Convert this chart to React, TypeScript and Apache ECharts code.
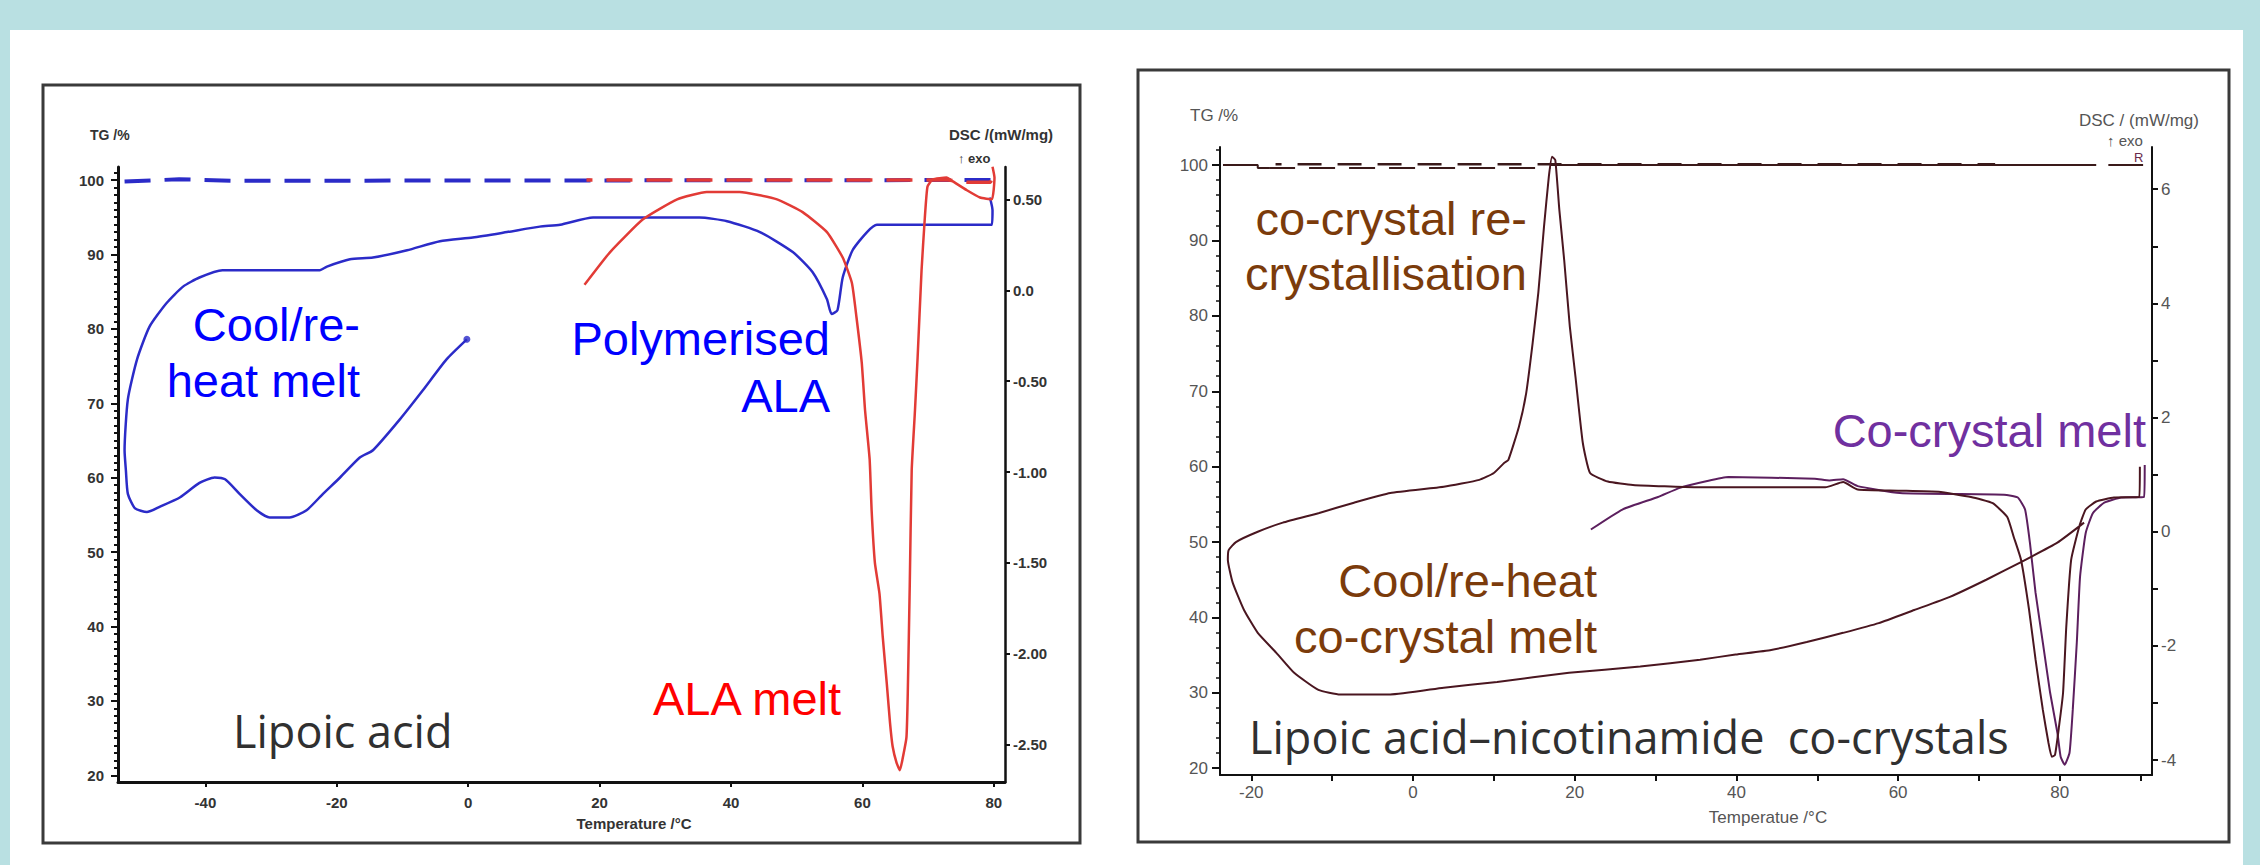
import React, { useEffect, useRef } from 'react';
import * as echarts from 'echarts';

const W = 2260;
const H = 865;
const SANS = 'Liberation Sans, Arial, sans-serif';
const SEGOE = 'Open Sans, Noto Sans, sans-serif';

// ---------- Left panel: Lipoic acid ----------
const lipoicTempTicks = [-40, -20, 0, 20, 40, 60, 80];
const lipoicTgTicks = [20, 30, 40, 50, 60, 70, 80, 90, 100];
const lipoicDscTicks = [0.5, 0, -0.5, -1, -1.5, -2, -2.5];

const lipoicTgBlue: [number, number][] = [[-52.3, 99.8], [-44, 100.1], [-36, 99.9], [80, 100]];
const lipoicTgRed: [number, number][] = [[18, 100], [73, 100], [76, 99.7], [79.5, 99.7], [80.1, 101.3]];

const lipoicDscBlue: [number, number][] = [
  [-0.2, -0.27], [-3.3, -0.38], [-6.9, -0.55], [-10.4, -0.71], [-14.5, -0.88], [-16.5, -0.92],
  [-19.5, -1.03], [-22.1, -1.12], [-24.6, -1.21], [-27.2, -1.25], [-30.2, -1.25], [-32.2, -1.21],
  [-34.8, -1.12], [-37.0, -1.04], [-38.6, -1.03], [-40.9, -1.06], [-43.9, -1.14], [-46.9, -1.19],
  [-48.9, -1.22], [-50.7, -1.2], [-51.8, -1.12], [-52.1, -0.99], [-52.3, -0.88], [-51.8, -0.6],
  [-50.4, -0.38], [-48.5, -0.2], [-45.9, -0.07], [-43.4, 0.02], [-40.9, 0.07], [-37.4, 0.11],
  [-22.6, 0.11], [-21.5, 0.13], [-18.0, 0.17], [-14.5, 0.18], [-9.3, 0.22], [-4.3, 0.27],
  [0.7, 0.29], [5.9, 0.32], [10.9, 0.35], [14.0, 0.36], [19.0, 0.4], [24.1, 0.4], [35.2, 0.4],
  [39.4, 0.38], [44.4, 0.32], [49.4, 0.21], [52.4, 0.1], [54.6, -0.05], [55.3, -0.13],
  [56.2, -0.11], [57.0, 0.07], [58.5, 0.22], [60.7, 0.32], [62.2, 0.36], [79.7, 0.36],
  [79.8, 0.44], [79.4, 0.51]
];
const lipoicDscBlueEnd: [number, number][] = [[-0.2, -0.27]];

const lipoicDscRed: [number, number][] = [
  [17.7, 0.03], [21.6, 0.21], [26.6, 0.39], [31.8, 0.5], [36.3, 0.54], [41.3, 0.54], [47.0, 0.5],
  [50.9, 0.43], [54.6, 0.32], [57.0, 0.18], [58.4, 0.04], [59.1, -0.15], [59.9, -0.4], [60.4, -0.66],
  [61.1, -0.93], [61.4, -1.21], [61.9, -1.5], [62.6, -1.67], [63.1, -1.91], [63.7, -2.16],
  [64.2, -2.38], [64.6, -2.51], [65.2, -2.6], [65.7, -2.64], [66.1, -2.58], [66.7, -2.46],
  [66.9, -2.22], [67.2, -1.63], [67.5, -0.99], [68.0, -0.66], [68.4, -0.37], [69.0, 0.11],
  [69.5, 0.4], [69.9, 0.57], [70.7, 0.61], [72.8, 0.62], [73.7, 0.6], [75.9, 0.55], [77.9, 0.51],
  [79.7, 0.5], [80.1, 0.62], [79.8, 0.68]
];

// ---------- Right panel: Lipoic acid–nicotinamide co-crystals ----------
const coTempTicks = [-20, 0, 20, 40, 60, 80];
const coTempMinorTicks = [-20, -10, 0, 10, 20, 30, 40, 50, 60, 70, 80, 90];
const coTgTicks = [20, 30, 40, 50, 60, 70, 80, 90, 100];
const coDscTicks = [6, 4, 2, 0, -2, -4];
const coDscMinorTicks = [6, 5, 4, 3, 2, 1, 0, -1, -2, -3, -4];

const coTgSolidStart: [number, number][] = [[-23.5, 100], [-19.2, 100], [-19.2, 99.6], [-17.8, 99.6]];
const coTgDashLow: [number, number][] = [[-17.8, 99.6], [17, 99.6]];
const coTgDashHigh: [number, number][] = [[-17, 100.1], [72, 100.1]];
const coTgSolid: [number, number][] = [[17, 100], [84.5, 100]];
const coTgDashEnd: [number, number][] = [[86, 100], [90.3, 100]];

const coDscCoolReheat: [number, number][] = [
  [83.0, 0.16], [79.7, -0.19], [75.2, -0.53], [70.9, -0.84], [66.4, -1.14], [62.0, -1.37],
  [57.6, -1.6], [53.2, -1.77], [48.7, -1.93], [44.3, -2.07], [39.9, -2.15], [35.5, -2.24],
  [28.1, -2.36], [19.3, -2.47], [10.4, -2.63], [3.8, -2.73], [-2.8, -2.85], [-9.0, -2.85],
  [-11.7, -2.77], [-14.7, -2.47], [-16.9, -2.12], [-19.2, -1.77], [-20.9, -1.37], [-22.3, -0.89],
  [-22.9, -0.49], [-22.8, -0.32], [-21.9, -0.18], [-19.2, 0.0], [-16.1, 0.16], [-11.6, 0.33],
  [-7.3, 0.51], [-2.8, 0.68], [3.8, 0.79], [8.2, 0.91], [10.0, 1.03], [11.3, 1.21], [11.8, 1.26],
  [13.1, 1.84], [14.0, 2.43], [14.8, 3.31], [15.5, 4.19], [16.2, 5.34], [16.8, 6.22], [17.2, 6.57],
  [17.6, 6.51], [18.1, 5.64], [18.7, 4.76], [19.4, 3.59], [20.1, 2.71], [21.0, 1.56], [21.9, 1.03],
  [24.1, 0.88], [27.2, 0.82], [35, 0.78], [45, 0.78], [51, 0.78], [53.2, 0.87], [55, 0.74],
  [60, 0.72], [65, 0.7], [69.0, 0.61], [71.7, 0.5], [73.5, 0.26], [74.3, -0.09], [75.2, -0.49],
  [76.2, -1.37], [77.0, -2.24], [77.9, -3.12], [78.6, -3.7], [79.0, -3.94], [79.4, -3.91],
  [79.9, -3.41], [80.4, -2.82], [80.8, -1.66], [81.4, -0.49], [82.4, 0.09], [83.2, 0.39],
  [84.5, 0.53], [86.7, 0.6], [89.8, 0.61], [89.9, 1.14]
];

const coDscMelt: [number, number][] = [
  [22.0, 0.04], [25.9, 0.39], [30.3, 0.61], [33.0, 0.77], [36.4, 0.89], [39.0, 0.96], [49.7, 0.93],
  [51.5, 0.9], [53.2, 0.92], [55.0, 0.8], [60.2, 0.68], [73.1, 0.65], [74.8, 0.6], [75.7, 0.39],
  [76.3, -0.19], [77.0, -1.07], [77.9, -1.94], [78.8, -2.82], [79.7, -3.52], [80.1, -3.94],
  [80.6, -4.08], [81.2, -3.87], [81.6, -3.12], [82.1, -1.94], [82.5, -0.79], [83.2, -0.02],
  [84.1, 0.33], [85.5, 0.51], [87.6, 0.6], [90.4, 0.61], [90.5, 1.17]
];

const steps = (a: number, b: number, s: number) => {
  const out: number[] = [];
  for (let v = a; v <= b + 1e-9; v += s) out.push(Math.round(v * 100) / 100);
  return out;
};

const BLUE = '#2b2bc8';
const RED = '#e23b36';
const BROWN_LINE = '#4a1620';
const PURPLE_LINE = '#5c1f5e';

function txt(text: string, x: number, y: number, o: any = {}) {
  return {
    type: 'text',
    x,
    y,
    z: 100,
    silent: true,
    style: {
      text,
      fill: o.fill || '#000',
      fontSize: o.size || 14,
      fontFamily: o.family || SANS,
      fontWeight: o.weight || 'normal',
      align: o.align || 'left',
      verticalAlign: 'middle',
    },
  };
}

function lineSeries(data: [number, number][], xi: number, yi: number, ls: any, smooth: any = false) {
  return {
    type: 'line',
    xAxisIndex: xi,
    yAxisIndex: yi,
    data,
    showSymbol: false,
    symbol: 'none',
    silent: true,
    smooth,
    lineStyle: ls,
    z: 3,
  };
}

export default function App() {
  const ref = useRef<HTMLDivElement>(null);

  useEffect(() => {
    if (!ref.current) return;
    const chart = echarts.init(ref.current, undefined, { renderer: 'svg', width: W, height: H });

    const leftLabel = { fontSize: 15, fontWeight: 'bold', color: '#333', fontFamily: SANS };
    const rightLabel = { fontSize: 17, color: '#555', fontFamily: SANS };
    const blackLine = (w: number) => ({ show: true, onZero: false, lineStyle: { color: '#111', width: w } });
    const noLine = { show: false, onZero: false };

    const option: any = {
      animation: false,
      backgroundColor: 'transparent',
      grid: [
        { left: 118, top: 167, width: 887, height: 615, containLabel: false },
        { left: 1220, top: 147, width: 932, height: 628, containLabel: false },
      ],
      xAxis: [
        {
          gridIndex: 0, type: 'value', min: -53.3, max: 81.7, position: 'bottom',
          axisLine: blackLine(3),
          axisTick: { show: true, customValues: lipoicTempTicks, length: 5, lineStyle: { color: '#111', width: 2 } },
          axisLabel: { ...leftLabel, customValues: lipoicTempTicks, margin: 13 },
          splitLine: { show: false },
        },
        {
          gridIndex: 1, type: 'value', min: -23.87, max: 91.4, position: 'bottom',
          axisLine: blackLine(2),
          axisTick: { show: true, customValues: coTempMinorTicks, length: 6, lineStyle: { color: '#111', width: 2 } },
          axisLabel: { ...rightLabel, customValues: coTempTicks, margin: 9 },
          splitLine: { show: false },
        },
      ],
      yAxis: [
        {
          gridIndex: 0, type: 'value', min: 19.1, max: 101.75, position: 'left',
          axisLine: blackLine(3),
          axisTick: { show: true, customValues: lipoicTgTicks, length: 7, lineStyle: { color: '#111', width: 2 } },
          axisLabel: { ...leftLabel, customValues: lipoicTgTicks, margin: 14 },
          splitLine: { show: false },
        },
        {
          gridIndex: 0, type: 'value', min: 19.1, max: 101.75, position: 'left',
          axisLine: noLine,
          axisTick: { show: true, customValues: steps(20, 101, 1), length: 4, lineStyle: { color: '#111', width: 2 } },
          axisLabel: { show: false },
          splitLine: { show: false },
        },
        {
          gridIndex: 0, type: 'value', min: -2.705, max: 0.678, position: 'right',
          axisLine: blackLine(2.5),
          axisTick: { show: true, customValues: lipoicDscTicks, length: 5, lineStyle: { color: '#111', width: 2 } },
          axisLabel: {
            ...leftLabel, customValues: lipoicDscTicks, margin: 8,
            formatter: (v: number) => (v === 0 ? '0.0' : v.toFixed(2)),
          },
          splitLine: { show: false },
        },
        {
          gridIndex: 1, type: 'value', min: 19.1, max: 102.4, position: 'left',
          axisLine: blackLine(2),
          axisTick: { show: true, customValues: coTgTicks, length: 8, lineStyle: { color: '#111', width: 2 } },
          axisLabel: { ...rightLabel, customValues: coTgTicks, margin: 12 },
          splitLine: { show: false },
        },
        {
          gridIndex: 1, type: 'value', min: 19.1, max: 102.4, position: 'left',
          axisLine: noLine,
          axisTick: { show: true, customValues: steps(20, 102, 2), length: 4, lineStyle: { color: '#111', width: 1.5 } },
          axisLabel: { show: false },
          splitLine: { show: false },
        },
        {
          gridIndex: 1, type: 'value', min: -4.26, max: 6.74, position: 'right',
          axisLine: blackLine(2),
          axisTick: { show: true, customValues: coDscMinorTicks, length: 6, lineStyle: { color: '#111', width: 2 } },
          axisLabel: { ...rightLabel, customValues: coDscTicks, margin: 9 },
          splitLine: { show: false },
        },
      ],
      series: [
        lineSeries(lipoicTgBlue, 0, 0, { color: BLUE, width: 4, type: [26, 14] }),
        lineSeries(lipoicTgRed, 0, 0, { color: RED, width: 3.5, type: [26, 14], dashOffset: 20 }),
        lineSeries(lipoicDscBlue, 0, 2, { color: BLUE, width: 2.5 }, 0.2),
        lineSeries(lipoicDscRed, 0, 2, { color: RED, width: 2.5 }, 0.15),
        {
          type: 'scatter', xAxisIndex: 0, yAxisIndex: 2, data: lipoicDscBlueEnd, symbol: 'circle',
          symbolSize: 7, silent: true, itemStyle: { color: BLUE }, z: 4,
        },

        lineSeries(coTgSolidStart, 1, 3, { color: '#3a1a1a', width: 2 }),
        lineSeries(coTgDashLow, 1, 3, { color: '#3a1a1a', width: 2, type: [26, 14] }),
        lineSeries(coTgDashHigh, 1, 3, { color: '#3a1a1a', width: 2.5, type: [24, 16], dashOffset: 18 }),
        lineSeries(coTgSolid, 1, 3, { color: '#3a1a1a', width: 2 }),
        lineSeries(coTgDashEnd, 1, 3, { color: '#3a1a1a', width: 2 }),

        lineSeries(coDscMelt, 1, 5, { color: PURPLE_LINE, width: 2 }, 0.15),
        lineSeries(coDscCoolReheat, 1, 5, { color: BROWN_LINE, width: 2 }, 0.15),
      ],
      graphic: [
        { type: 'rect', silent: true, shape: { x: 43, y: 85, width: 1037, height: 758 }, style: { fill: 'none', stroke: '#3a3a3a', lineWidth: 3 } },
        { type: 'rect', silent: true, shape: { x: 1138, y: 70, width: 1091, height: 772 }, style: { fill: 'none', stroke: '#3a3a3a', lineWidth: 3 } },

        // left panel axis titles
        txt('TG /%', 90, 135, { size: 14, weight: 'bold', fill: '#333' }),
        txt('DSC /(mW/mg)', 1001, 134, { size: 15, weight: 'bold', fill: '#333', align: 'center' }),
        txt('\u2191 exo', 958, 158, { size: 13, weight: 'bold', fill: '#333' }),
        txt('Temperature /\u00b0C', 634, 823, { size: 15, weight: 'bold', fill: '#333', align: 'center' }),

        // right panel axis titles
        txt('TG /%', 1190, 115, { size: 17, fill: '#555' }),
        txt('DSC / (mW/mg)', 2079, 120, { size: 17, fill: '#555' }),
        txt('\u2191 exo', 2107, 140, { size: 15, fill: '#555' }),
        txt('R', 2134, 157, { size: 13, fill: '#6a2a4a' }),
        txt('Temperatue /\u00b0C', 1768, 817, { size: 17, fill: '#555', align: 'center' }),

        // left annotations
        txt('Cool/re-', 360, 324.5, { size: 47, fill: '#0000ff', align: 'right' }),
        txt('heat melt', 360, 380.5, { size: 47, fill: '#0000ff', align: 'right' }),
        txt('Polymerised', 830, 338.5, { size: 47, fill: '#0000ff', align: 'right' }),
        txt('ALA', 830, 395.5, { size: 47, fill: '#0000ff', align: 'right' }),
        txt('ALA melt', 653, 698.5, { size: 47, fill: '#ff0000' }),
        txt('Lipoic acid', 233, 730, { size: 45, fill: '#303030', family: SEGOE }),

        // right annotations
        txt('co-crystal re-', 1527, 218.5, { size: 47, fill: '#7b3b0b', align: 'right' }),
        txt('crystallisation', 1527, 273.5, { size: 47, fill: '#7b3b0b', align: 'right' }),
        txt('Cool/re-heat', 1597, 580.5, { size: 47, fill: '#7b3b0b', align: 'right' }),
        txt('co-crystal melt', 1597, 636.5, { size: 47, fill: '#7b3b0b', align: 'right' }),
        txt('Co-crystal melt', 2146, 430.5, { size: 47, fill: '#7030a0', align: 'right' }),
        txt('Lipoic acid\u2013nicotinamide  co-crystals', 1249, 736, { size: 45, fill: '#303030', family: SEGOE }),
      ],
    };

    chart.setOption(option);
    return () => chart.dispose();
  }, []);

  return (
    <div style={{ position: 'fixed', left: 0, top: 0, width: W, height: H, background: '#b9e0e2', overflow: 'hidden' }}>
      <div style={{ position: 'absolute', left: 10, top: 30, width: 2233, height: 835, background: '#ffffff' }} />
      <div ref={ref} style={{ position: 'absolute', left: 0, top: 0, width: W, height: H }} />
    </div>
  );
}
